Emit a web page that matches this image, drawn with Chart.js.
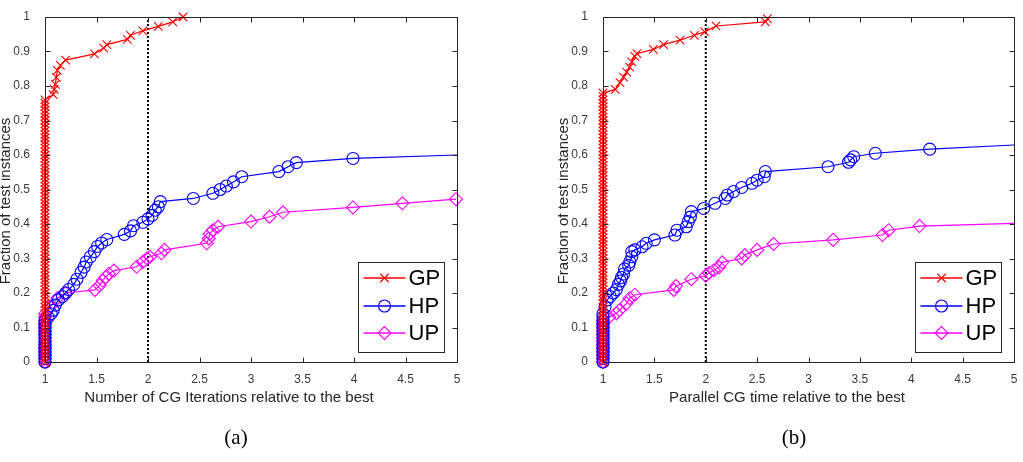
<!DOCTYPE html>
<html>
<head>
<meta charset="utf-8">
<script src="https://cdn.jsdelivr.net/npm/chart.js@4/dist/chart.umd.min.js"></script>
<style>
  html, body { margin: 0; padding: 0; background: #fff; }
  body { width: 1023px; height: 462px; position: relative; overflow: hidden; }
  .panel { position: absolute; top: 0; }
  #panelA { left: 0; }
  #panelB { left: 558px; }
</style>
</head>
<body>
<div class="panel" id="panelA"><canvas id="chartA" width="470" height="462"></canvas></div>
<div class="panel" id="panelB"><canvas id="chartB" width="465" height="462"></canvas></div>
<script>
  // ---- data ----
  const xTickValues = [1, 1.5, 2, 2.5, 3, 3.5, 4, 4.5, 5];
  const yTickValues = [0, 0.1, 0.2, 0.3, 0.4, 0.5, 0.6, 0.7, 0.8, 0.9, 1];
  const seriesNames = ['GP', 'HP', 'UP'];
  const refLineX = [2, 2];
  const refLineY = [0, 1];

  // (a) number of CG iterations
  const gpIterX = [
    1, 1, 1, 1, 1, 1, 1, 1, 1, 1, 1, 1, 1, 1, 1, 1, 1, 1, 1, 1,
    1, 1, 1, 1, 1, 1, 1, 1, 1, 1, 1, 1, 1, 1, 1, 1, 1, 1, 1, 1,
    1, 1, 1, 1, 1, 1, 1, 1, 1, 1, 1, 1, 1, 1, 1, 1, 1, 1, 1, 1,
    1, 1, 1, 1, 1, 1, 1, 1, 1, 1, 1, 1, 1, 1, 1, 1, 1,
    1.08, 1.09, 1.10, 1.11, 1.12, 1.15, 1.20, 1.48, 1.57, 1.60, 1.80, 1.83, 1.95, 2.10, 2.24, 2.34
  ];
  const gpIterY = [
    0, 0.01, 0.02, 0.03, 0.04, 0.05, 0.06, 0.07, 0.08, 0.09, 0.10, 0.11, 0.12, 0.13, 0.14, 0.15, 0.16, 0.17, 0.18, 0.19,
    0.20, 0.21, 0.22, 0.23, 0.24, 0.25, 0.26, 0.27, 0.28, 0.29, 0.30, 0.31, 0.32, 0.33, 0.34, 0.35, 0.36, 0.37, 0.38, 0.39,
    0.40, 0.41, 0.42, 0.43, 0.44, 0.45, 0.46, 0.47, 0.48, 0.49, 0.50, 0.51, 0.52, 0.53, 0.54, 0.55, 0.56, 0.57, 0.58, 0.59,
    0.60, 0.61, 0.62, 0.63, 0.64, 0.65, 0.66, 0.67, 0.68, 0.69, 0.70, 0.71, 0.72, 0.73, 0.74, 0.75, 0.76,
    0.775, 0.79, 0.805, 0.825, 0.845, 0.86, 0.875, 0.893, 0.91, 0.92, 0.935, 0.947, 0.96, 0.973, 0.986, 1.0
  ];
  const hpIterX = [
    1, 1, 1, 1, 1, 1, 1, 1, 1, 1, 1, 1, 1,
    1.03, 1.06, 1.08, 1.10, 1.13, 1.17, 1.20, 1.23, 1.28, 1.31, 1.35, 1.38, 1.40, 1.44, 1.48, 1.51, 1.55, 1.60, 1.77,
    1.83, 1.86, 1.95, 2.00, 2.04, 2.07, 2.10, 2.12, 2.44, 2.63, 2.70, 2.76, 2.83, 2.91, 3.27, 3.36, 3.44, 3.99, 5.00
  ];
  const hpIterY = [
    0, 0.01, 0.02, 0.03, 0.04, 0.05, 0.06, 0.07, 0.08, 0.09, 0.10, 0.11, 0.12,
    0.13, 0.14, 0.15, 0.165, 0.18, 0.19, 0.20, 0.21, 0.225, 0.24, 0.26, 0.275, 0.29, 0.305, 0.32, 0.335, 0.345, 0.355, 0.37,
    0.38, 0.395, 0.405, 0.415, 0.425, 0.44, 0.45, 0.465, 0.474, 0.489, 0.50, 0.51, 0.522, 0.537, 0.552, 0.566, 0.578, 0.59, 0.60
  ];
  const upIterX = [
    1, 1, 1, 1, 1, 1, 1, 1, 1, 1, 1, 1, 1, 1, 1,
    1.05, 1.12, 1.20, 1.485, 1.53, 1.56, 1.59, 1.62, 1.67, 1.89, 1.95, 1.99, 2.02, 2.13, 2.16,
    2.57, 2.59, 2.60, 2.63, 2.68, 3.00, 3.18, 3.31, 3.99, 4.47, 4.99
  ];
  const upIterY = [
    0, 0.01, 0.02, 0.03, 0.04, 0.05, 0.06, 0.07, 0.08, 0.09, 0.10, 0.11, 0.12, 0.13, 0.14,
    0.16, 0.185, 0.20, 0.209, 0.222, 0.236, 0.246, 0.256, 0.265, 0.276, 0.29, 0.30, 0.305, 0.315, 0.325,
    0.344, 0.358, 0.372, 0.382, 0.392, 0.407, 0.421, 0.434, 0.448, 0.46, 0.472
  ];

  // (b) parallel CG time
  const gpTimeX = [
    1, 1, 1, 1, 1, 1, 1, 1, 1, 1, 1, 1, 1, 1, 1, 1, 1, 1, 1, 1,
    1, 1, 1, 1, 1, 1, 1, 1, 1, 1, 1, 1, 1, 1, 1, 1, 1, 1, 1, 1,
    1, 1, 1, 1, 1, 1, 1, 1, 1, 1, 1, 1, 1, 1, 1, 1, 1, 1, 1, 1,
    1, 1, 1, 1, 1, 1, 1, 1, 1, 1, 1, 1, 1, 1, 1, 1, 1, 1, 1,
    1.12, 1.165, 1.20, 1.23, 1.26, 1.28, 1.31, 1.33, 1.49, 1.59, 1.75, 1.89, 1.99, 2.10, 2.58, 2.60
  ];
  const gpTimeY = [
    0, 0.01, 0.02, 0.03, 0.04, 0.05, 0.06, 0.07, 0.08, 0.09, 0.10, 0.11, 0.12, 0.13, 0.14, 0.15, 0.16, 0.17, 0.18, 0.19,
    0.20, 0.21, 0.22, 0.23, 0.24, 0.25, 0.26, 0.27, 0.28, 0.29, 0.30, 0.31, 0.32, 0.33, 0.34, 0.35, 0.36, 0.37, 0.38, 0.39,
    0.40, 0.41, 0.42, 0.43, 0.44, 0.45, 0.46, 0.47, 0.48, 0.49, 0.50, 0.51, 0.52, 0.53, 0.54, 0.55, 0.56, 0.57, 0.58, 0.59,
    0.60, 0.61, 0.62, 0.63, 0.64, 0.65, 0.66, 0.67, 0.68, 0.69, 0.70, 0.71, 0.72, 0.73, 0.74, 0.75, 0.76, 0.77, 0.78,
    0.79, 0.81, 0.826, 0.84, 0.855, 0.87, 0.886, 0.894, 0.906, 0.92, 0.933, 0.947, 0.957, 0.974, 0.986, 0.995
  ];
  const hpTimeX = [
    1, 1, 1, 1, 1, 1, 1, 1, 1, 1, 1, 1, 1, 1, 1,
    1.02, 1.04, 1.07, 1.10, 1.13, 1.15, 1.17, 1.18, 1.20, 1.21, 1.25, 1.26, 1.28, 1.28, 1.31, 1.38, 1.42, 1.50, 1.70, 1.72,
    1.81, 1.83, 1.85, 1.86, 1.98, 2.09, 2.19, 2.21, 2.27, 2.35, 2.45, 2.50, 2.57, 2.58, 3.19, 3.39, 3.41, 3.44, 3.65, 4.18, 5.00
  ];
  const hpTimeY = [
    0, 0.01, 0.02, 0.03, 0.04, 0.05, 0.06, 0.07, 0.08, 0.09, 0.10, 0.11, 0.12, 0.13, 0.14,
    0.16, 0.18, 0.19, 0.20, 0.21, 0.225, 0.235, 0.245, 0.255, 0.27, 0.28, 0.29, 0.305, 0.32, 0.325, 0.334, 0.344, 0.354, 0.368, 0.382,
    0.392, 0.407, 0.42, 0.436, 0.445, 0.46, 0.474, 0.484, 0.494, 0.506, 0.518, 0.527, 0.537, 0.552, 0.566, 0.579, 0.586, 0.595, 0.605, 0.617, 0.629
  ];
  const upTimeX = [
    1, 1, 1, 1, 1, 1, 1, 1, 1, 1, 1, 1, 1,
    1.06, 1.13, 1.16, 1.23, 1.26, 1.31, 1.69, 1.71, 1.86, 2.00, 2.03, 2.08, 2.13, 2.16, 2.35, 2.38, 2.50, 2.66,
    3.24, 3.72, 3.78, 4.08, 5.00
  ];
  const upTimeY = [
    0, 0.01, 0.02, 0.03, 0.04, 0.05, 0.06, 0.07, 0.08, 0.09, 0.10, 0.11, 0.12,
    0.13, 0.141, 0.15, 0.17, 0.185, 0.195, 0.209, 0.22, 0.24, 0.25, 0.258, 0.266, 0.275, 0.289, 0.30, 0.31, 0.325, 0.342,
    0.354, 0.368, 0.382, 0.394, 0.402
  ];

  // ---- style ----
  const textFont = '"Liberation Sans", Arial, Helvetica, sans-serif';
  const axisColor = '#262626';
  const styles = {
    GP: { color: '#ff0000', pointStyle: 'crossRot', radius: 6 },
    HP: { color: '#0000ff', pointStyle: 'circle', radius: 6 },
    UP: { color: '#ff00ff', pointStyle: 'rectRot', radius: 6.5 }
  };

  const toPoints = (xs, ys) => xs.map((x, i) => ({ x, y: ys[i] }));

  function seriesDataset(name, xs, ys) {
    const s = styles[name];
    return {
      label: name,
      data: toPoints(xs, ys),
      borderColor: s.color,
      backgroundColor: 'rgba(0,0,0,0)',
      borderWidth: 1.2,
      pointStyle: s.pointStyle,
      // the last sample sits on the right border without a marker
      pointRadius: (c) => (c.raw && c.raw.x >= 5 ? 0 : s.radius),
      pointBorderColor: s.color,
      pointBackgroundColor: 'rgba(0,0,0,0)',
      pointBorderWidth: 1.1,
      tension: 0,
      fill: false,
      clip: false
    };
  }

  function drawMarker(ctx, name, x, y) {
    const s = styles[name];
    ctx.strokeStyle = s.color;
    ctx.fillStyle = 'rgba(0,0,0,0)';
    ctx.lineWidth = 1.1;
    Chart.helpers.drawPoint(ctx, { pointStyle: s.pointStyle, radius: s.radius, rotation: 0, borderWidth: 1.1 }, x, y);
  }

  function panelDecor(cfg) {
    return {
      id: 'panelDecor',
      afterDraw(chart) {
        const { ctx, chartArea: a, scales: { x, y } } = chart;
        const L = Math.round(a.left) + 0.5;
        const R = Math.round(a.right) + 0.5;
        const T = Math.round(a.top) + 0.5;
        const B = Math.round(a.bottom) + 0.5;
        ctx.save();

        // box and inward ticks on all sides
        ctx.strokeStyle = axisColor;
        ctx.lineWidth = 1;
        ctx.beginPath();
        ctx.rect(L, T, R - L, B - T);
        x.ticks.forEach((t) => {
          const px = Math.round(x.getPixelForValue(t.value)) + 0.5;
          ctx.moveTo(px, B); ctx.lineTo(px, B - 5);
          ctx.moveTo(px, T); ctx.lineTo(px, T + 5);
        });
        y.ticks.forEach((t) => {
          const py = Math.round(y.getPixelForValue(t.value)) + 0.5;
          ctx.moveTo(L, py); ctx.lineTo(L + 5, py);
          ctx.moveTo(R, py); ctx.lineTo(R - 5, py);
        });
        ctx.stroke();

        // axis titles
        ctx.fillStyle = axisColor;
        ctx.textAlign = 'center';
        ctx.textBaseline = 'middle';
        ctx.font = '15px ' + textFont;
        ctx.fillText(cfg.xTitle, a.left + 184, 398);
        ctx.save();
        ctx.translate(a.left - 39, 201);
        ctx.rotate(-Math.PI / 2);
        ctx.fillText('Fraction of test instances', 0, 0);
        ctx.restore();

        // caption
        ctx.fillStyle = '#000';
        ctx.font = '21px "Liberation Serif", "Times New Roman", serif';
        ctx.fillText(cfg.caption, a.left + 191, 438);

        // legend box
        const bx = Math.round(a.right) - 99 + 0.5;
        const bw = 86;
        const by = 262.5;
        const bh = 90;
        ctx.fillStyle = '#fff';
        ctx.fillRect(bx, by, bw, bh);
        ctx.strokeStyle = axisColor;
        ctx.lineWidth = 1;
        ctx.strokeRect(bx, by, bw, bh);
        const rows = [278, 306, 333];
        seriesNames.forEach((name, i) => {
          const ry = rows[i];
          ctx.strokeStyle = styles[name].color;
          ctx.lineWidth = 1.5;
          ctx.beginPath();
          ctx.moveTo(bx + 5, ry);
          ctx.lineTo(bx + 47, ry);
          ctx.stroke();
          drawMarker(ctx, name, bx + 26, ry);
          ctx.fillStyle = '#000';
          ctx.font = '22px ' + textFont;
          ctx.textAlign = 'left';
          ctx.fillText(name, bx + 50, ry + 1);
        });

        ctx.restore();
      }
    };
  }

  function makeChart(canvasId, sets, cfg) {
    const datasets = [
      seriesDataset('GP', sets.gp[0], sets.gp[1]),
      seriesDataset('HP', sets.hp[0], sets.hp[1]),
      seriesDataset('UP', sets.up[0], sets.up[1]),
      {
        label: 'ref',
        data: toPoints(refLineX, refLineY),
        borderColor: '#000',
        borderWidth: 2,
        borderDash: [2, 2],
        pointRadius: 0,
        fill: false
      }
    ];

    return new Chart(document.getElementById(canvasId), {
      type: 'line',
      data: { datasets },
      options: {
        responsive: false,
        animation: false,
        devicePixelRatio: 1,
        layout: { padding: { top: 17, right: cfg.padRight, bottom: 0, left: 0 } },
        plugins: {
          legend: { display: false },
          tooltip: { enabled: false }
        },
        scales: {
          x: {
            type: 'linear',
            min: 1,
            max: 5,
            afterBuildTicks: (s) => { s.ticks = xTickValues.map((v) => ({ value: v })); },
            afterFit: (s) => { s.height = 100; },
            grid: { display: false },
            border: { display: false },
            ticks: {
              padding: 2,
              color: '#3a3a3a',
              font: { family: textFont, size: 12 },
              maxRotation: 0,
              autoSkip: false,
              callback: (v) => String(v)
            }
          },
          y: {
            type: 'linear',
            min: 0,
            max: 1,
            afterBuildTicks: (s) => { s.ticks = yTickValues.map((v) => ({ value: v })); },
            afterFit: (s) => { s.width = 45; },
            grid: { display: false },
            border: { display: false },
            ticks: {
              padding: 7,
              color: '#3a3a3a',
              font: { family: textFont, size: 12 },
              autoSkip: false,
              callback: (v) => String(v)
            }
          }
        }
      },
      plugins: [panelDecor(cfg)]
    });
  }

  makeChart('chartA', {
    gp: [gpIterX, gpIterY],
    hp: [hpIterX, hpIterY],
    up: [upIterX, upIterY]
  }, { xTitle: 'Number of CG Iterations relative to the best', caption: '(a)', padRight: 13 });

  makeChart('chartB', {
    gp: [gpTimeX, gpTimeY],
    hp: [hpTimeX, hpTimeY],
    up: [upTimeX, upTimeY]
  }, { xTitle: 'Parallel CG time relative to the best', caption: '(b)', padRight: 9 });
</script>
</body>
</html>
